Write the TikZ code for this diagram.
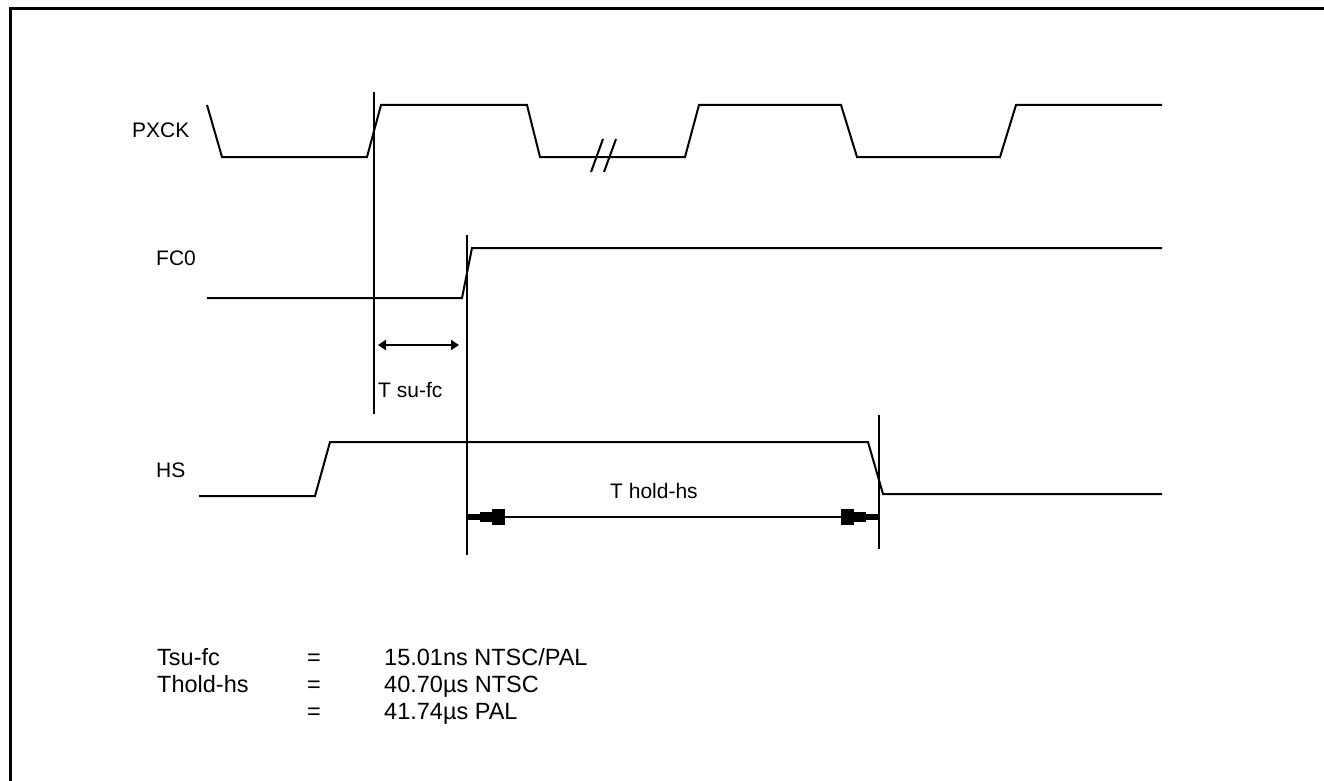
\documentclass[tikz,border=0pt]{standalone}
\usepackage{fontspec}
\setmainfont{Liberation Sans}
\usepackage{tikz}
\usetikzlibrary{arrows.meta}
\tikzset{
  wave/.style={line width=2pt, line join=miter},
  marker/.style={line width=2pt},
  sig/.style={anchor=base west, inner sep=0pt, font=\fontsize{21}{25}\selectfont},
  note/.style={anchor=base west, inner sep=0pt, font=\fontsize{23.5}{27}\selectfont},
  smalltip/.tip={Triangle[length=8pt,width=10pt]}
}
\def\holdhead(#1)[#2]{\begin{scope}[shift={(#1)},xscale=#2]
  \fill (0,-3) rectangle (13,3);
  \fill (13,-5) rectangle (25,5);
  \fill (25,-8) rectangle (38,8);
\end{scope}}

\begin{document}
\begin{tikzpicture}[x=1pt,y=-1pt]
			%%%%% START %%%%%
			\useasboundingbox (0,0) rectangle (1324,781);
			\clip (0,0) rectangle (1324,781);
			\draw[line width=3pt] (1340,9) -- (10,9) -- (10,800);
			
			\node[sig] (pxck) at (132,138) {PXCK};
			\node[sig] (fco) at (156,265) {FC0};
			\node[sig] (hs) at (156,477) {HS};
			
			\draw[wave] (207,105) -- (222,157) -- (367,157) -- (381,105) -- (527,105) -- (540,157) -- (685,157) -- (699,105) -- (841,105) -- (857,157) -- (1000,157) -- (1016,105) -- (1162,105);
			\draw[marker] (591,172) -- (603,139);
			\draw[marker] (604,172) -- (616,139);
			
			\draw[wave] (207,298) -- (462,298) -- (472,248) -- (1162,248);
			
			\draw[wave] (199,496) -- (315,496) -- (330,442) -- (868,442) -- (883,494) -- (1162,494);
			
			\coordinate (m1top) at (374,92);
			\coordinate (m1bot) at (374,414);
			\coordinate (m2top) at (467,235);
			\coordinate (m2bot) at (467,555);
			\coordinate (m3top) at (879,415);
			\coordinate (m3bot) at (879,549);
			\draw[marker] (m1top) -- (m1bot);
			\draw[marker] (m2top) -- (m2bot);
			\draw[marker] (m3top) -- (m3bot);
			
			\coordinate (su-a) at (378,345);
			\coordinate (su-b) at (459,345);
			\draw[marker, smalltip-smalltip] (su-a) -- (su-b);
			\node[sig] (tsu) at (378,397) {T su-fc};
			
			\coordinate (hold-a) at (467,517);
			\coordinate (hold-b) at (879,517);
			\draw[marker] (hold-a) -- (hold-b);
			\holdhead(hold-a)[1]
			\holdhead(hold-b)[-1]
			\node[sig] (thold) at (610,498) {T hold-hs};
			
			\node[note] (n1) at (157,665) {Tsu-fc};
			\node[note] (e1) at (307,665) {=};
			\node[note] (v1) at (384,665) {15.01ns NTSC/PAL};
			\node[note] (n2) at (157,692) {Thold-hs};
			\node[note] (e2) at (307,692) {=};
			\node[note] (v2) at (384,692) {40.70µs NTSC};
			\node[note] (e3) at (307,719) {=};
			\node[note] (v3) at (384,719) {41.74µs PAL};
			%%%%% END %%%%%
\end{tikzpicture}
\end{document}
